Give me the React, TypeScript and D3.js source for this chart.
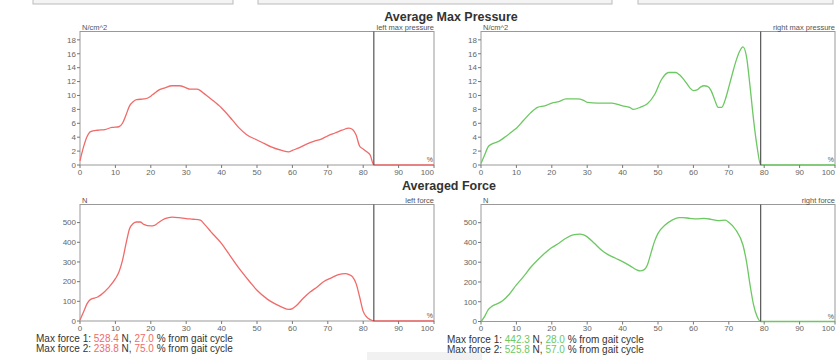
import React from "react";
import * as d3 from "d3";

// gait cycle % (x) shared by all series
const leftPressX = [0, 1, 2, 3, 5, 7, 9, 11, 12, 13, 14, 15, 16, 18, 19, 20, 21, 22, 24, 26, 28, 30, 31, 33, 34, 35, 37, 40, 43, 45, 47, 50, 52, 54, 57, 59, 60, 62, 64, 66, 68, 70, 72, 74, 76, 77, 78, 79, 80, 81, 82, 83, 90, 100];
const leftPressY = [0.6, 2.6, 4.1, 4.8, 5.0, 5.1, 5.4, 5.5, 6.0, 7.2, 8.5, 9.1, 9.4, 9.5, 9.6, 9.9, 10.3, 10.7, 11.1, 11.4, 11.4, 11.1, 10.9, 10.9, 10.7, 10.3, 9.5, 8.2, 6.5, 5.3, 4.4, 3.6, 3.1, 2.6, 2.1, 1.9, 2.1, 2.5, 3.0, 3.4, 3.7, 4.2, 4.6, 5.0, 5.3, 5.1, 4.3, 2.7, 2.3, 1.9, 1.4, 0, 0, 0];

const rightPressX = [0, 1, 2, 3, 5, 7, 9, 10, 12, 14, 16, 18, 20, 22, 24, 27, 29, 30, 33, 37, 40, 42, 43, 45, 47, 49, 51, 53, 55, 56, 58, 59, 60, 61, 62, 63, 64, 65, 66, 67, 68, 69, 70, 71, 72, 73, 74, 75, 76, 77, 78, 79, 90, 100];
const rightPressY = [0.2, 1.4, 2.6, 3.0, 3.4, 4.1, 4.9, 5.3, 6.4, 7.5, 8.3, 8.5, 8.9, 9.1, 9.5, 9.5, 9.3, 9.0, 8.9, 8.9, 8.5, 8.3, 8.0, 8.3, 8.8, 10.1, 12.3, 13.3, 13.3, 13.0, 11.8, 11.1, 10.7, 10.8, 11.2, 11.4, 11.3, 10.7, 9.4, 8.3, 8.3, 9.4, 11.2, 13.1, 14.9, 16.3, 17.0, 15.6, 11.3, 6.5, 2.6, 0, 0, 0];

const leftForceX = [0, 1, 2, 3, 5, 6, 8, 10, 11, 12, 13, 14, 15, 16, 17, 18, 20, 21, 22, 24, 26, 28, 30, 32, 34, 35, 37, 40, 42, 45, 48, 50, 53, 55, 57, 59, 60, 61, 63, 65, 67, 69, 71, 73, 75, 76, 77, 78, 79, 80, 81, 82, 83, 90, 100];
const leftForceY = [5, 46, 88, 110, 122, 134, 168, 215, 249, 308, 393, 469, 495, 503, 503, 491, 483, 486, 498, 520, 528, 525, 520, 517, 512, 495, 453, 393, 342, 266, 198, 156, 110, 88, 71, 59, 63, 76, 114, 147, 173, 202, 219, 236, 241, 236, 224, 190, 122, 49, 20, 7, 0, 0, 0];

const rightForceX = [0, 1, 2, 3, 5, 6, 8, 10, 12, 14, 16, 18, 20, 22, 24, 26, 28, 29, 30, 32, 34, 36, 38, 40, 42, 44, 45, 46, 47, 48, 49, 50, 52, 54, 56, 57, 59, 61, 63, 65, 67, 69, 70, 72, 74, 75, 76, 77, 78, 79, 90, 100];
const rightForceY = [0, 25, 59, 76, 93, 104, 138, 185, 227, 273, 311, 345, 374, 396, 421, 438, 442, 438, 428, 396, 362, 337, 320, 303, 283, 261, 256, 261, 286, 345, 404, 446, 488, 513, 526, 526, 522, 519, 522, 517, 510, 513, 502, 463, 387, 303, 185, 84, 25, 0, 0, 0];

const xTicks = [0, 10, 20, 30, 40, 50, 60, 70, 80, 90, 100];
const pressureTicks = [0, 2, 4, 6, 8, 10, 12, 14, 16, 18];
const forceTicks = [0, 100, 200, 300, 400, 500];

const RED = "#f06a6a";
const GREEN = "#6cc862";
const FONT = "Liberation Sans, Arial, sans-serif";

type PanelProps = {
  left: number;
  right: number;
  top: number;
  bottom: number;
  yMax: number;
  yTicks: number[];
  xs: number[];
  ys: number[];
  color: string;
  unit: string;
  name: string;
  cutoff: number;
};

function Panel(p: PanelProps) {
  const x = d3.scaleLinear().domain([0, 100]).range([p.left, p.right]);
  const y = d3.scaleLinear().domain([0, p.yMax]).range([p.bottom, p.top]);
  const line = d3
    .line<number>()
    .x((d, i) => x(p.xs[i]))
    .y((d) => y(d))
    .curve(d3.curveMonotoneX);
  const tickFont = { fontSize: 8, fill: "#666", fontFamily: FONT };
  return (
    <g>
      <rect x={p.left} y={p.top} width={p.right - p.left} height={p.bottom - p.top} fill="#fff" stroke="#999" strokeWidth={1} />
      <path d={line(p.ys) || ""} fill="none" stroke={p.color} strokeWidth={1.3} />
      <line x1={x(p.cutoff)} x2={x(p.cutoff)} y1={p.top} y2={p.bottom} stroke="#555" strokeWidth={1.2} />
      {p.yTicks.map((t) => (
        <g key={"y" + t}>
          <line x1={p.left - 3} x2={p.left} y1={y(t)} y2={y(t)} stroke="#777" />
          <text x={p.left - 4} y={y(t)} dy="0.35em" textAnchor="end" {...tickFont}>
            {t}
          </text>
        </g>
      ))}
      {xTicks.map((t) => (
        <g key={"x" + t}>
          <line x1={x(t)} x2={x(t)} y1={p.bottom} y2={p.bottom + 3} stroke="#777" />
          <text x={t === 100 ? p.right : x(t)} y={p.bottom + 9.5} textAnchor={t === 100 ? "end" : "middle"} {...tickFont}>
            {t}
          </text>
        </g>
      ))}
      <text x={p.left + 2} y={p.top - 2} {...tickFont} fontSize={7.5} fill="#555">
        {p.unit}
      </text>
      <text x={p.right} y={p.top - 2} textAnchor="end" {...tickFont} fontSize={7.5} fill="#555">
        {p.name}
      </text>
      <text x={p.right - 1} y={p.bottom - 3} textAnchor="end" {...tickFont} fontSize={7} fill="#555">
        %
      </text>
    </g>
  );
}

function ForceText({ x, y, color, lines }: { x: number; y: number; color: string; lines: string[][] }) {
  return (
    <g fontFamily={FONT} fontSize={10} fill="#333">
      {lines.map((l, i) => (
        <text key={i} x={x} y={y + i * 9.5}>
          {"Max force " + (i + 1) + ": "}
          <tspan fill={color}>{l[0]}</tspan>
          {" N, "}
          <tspan fill={color}>{l[1]}</tspan>
          {" % from gait cycle"}
        </text>
      ))}
    </g>
  );
}

export default function App() {
  const W = 840;
  const H = 360;
  return (
    <svg width={W} height={H} style={{ position: "absolute", left: 0, top: 0, background: "#fff" }}>
      <rect width={W} height={H} fill="#fff" />
      {/* toolbar edges cut at top */}
      <rect x={33} y={-6} width={200} height={10} fill="#f4f4f4" stroke="#bbb" />
      <rect x={258} y={-6} width={354} height={10} fill="#f4f4f4" stroke="#bbb" />
      <rect x={638} y={-6} width={195} height={10} fill="#f4f4f4" stroke="#bbb" />
      <rect x={367} y={352} width={115} height={12} fill="#f1f1f1" />

      <text x={451} y={21} textAnchor="middle" fontFamily={FONT} fontWeight="bold" fontSize={12.5} fill="#333">
        Average Max Pressure
      </text>
      <text x={449} y={190} textAnchor="middle" fontFamily={FONT} fontWeight="bold" fontSize={12.5} fill="#333">
        Averaged Force
      </text>

      <Panel left={80} right={434} top={31.5} bottom={165} yMax={19.2} yTicks={pressureTicks} xs={leftPressX} ys={leftPressY} color={RED} unit="N/cm^2" name="left max pressure" cutoff={83} />
      <Panel left={481} right={835} top={31.5} bottom={165} yMax={19.2} yTicks={pressureTicks} xs={rightPressX} ys={rightPressY} color={GREEN} unit="N/cm^2" name="right max pressure" cutoff={79} />
      <Panel left={80} right={434} top={204.5} bottom={321} yMax={592} yTicks={forceTicks} xs={leftForceX} ys={leftForceY} color={RED} unit="N" name="left force" cutoff={83} />
      <Panel left={481} right={835} top={204.5} bottom={321.5} yMax={592} yTicks={forceTicks} xs={rightForceX} ys={rightForceY} color={GREEN} unit="N" name="right force" cutoff={79} />

      <ForceText x={36} y={342} color={RED} lines={[["528.4", "27.0"], ["238.8", "75.0"]]} />
      <ForceText x={447} y={343} color={GREEN} lines={[["442.3", "28.0"], ["525.8", "57.0"]]} />
    </svg>
  );
}
